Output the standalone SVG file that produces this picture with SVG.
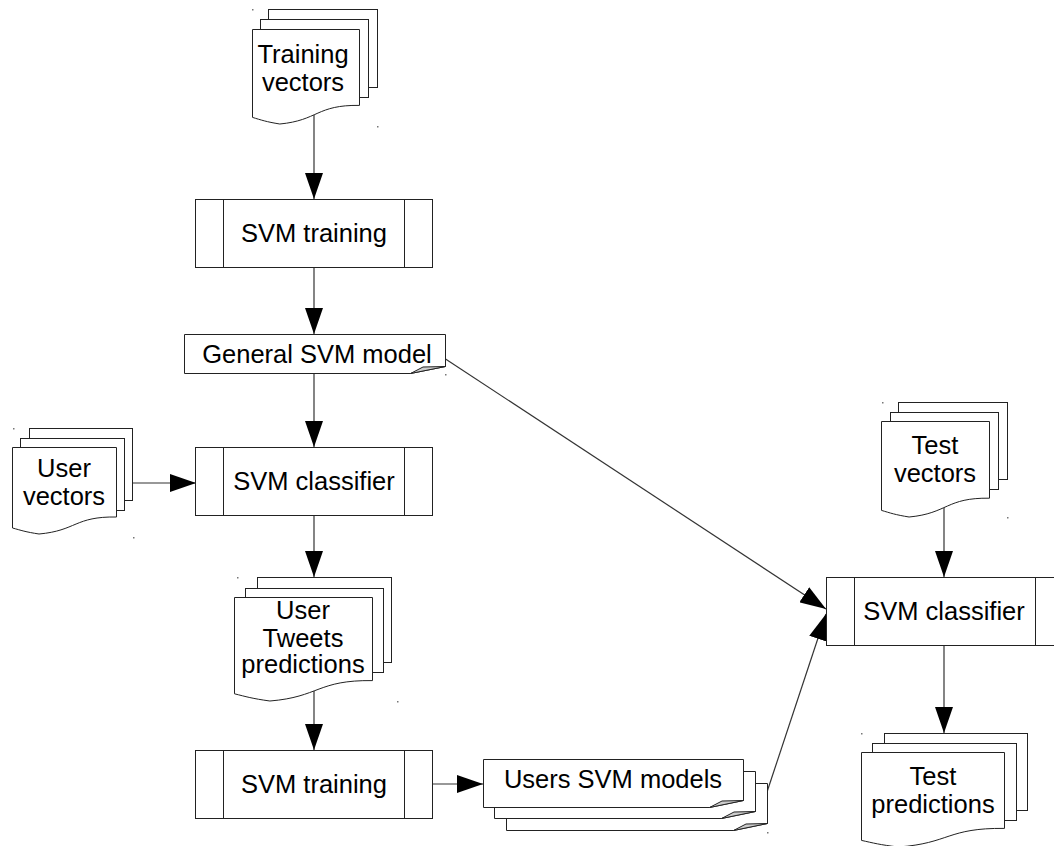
<svg xmlns="http://www.w3.org/2000/svg" width="1054" height="846" viewBox="0 0 1054 846">
<style>
.shape{fill:#fff;stroke:#222;stroke-width:1}
.fold{fill:#ccc;stroke:#222;stroke-width:1}
.conn{fill:none;stroke:#333;stroke-width:1.2}
.lbl{font-family:"Liberation Sans",Arial,sans-serif;font-size:25.5px;fill:#000;text-anchor:middle}
.dot{fill:#777}
</style>
<defs>
<marker id="ah" markerUnits="userSpaceOnUse" markerWidth="27" markerHeight="18" refX="26" refY="9" orient="auto">
<path d="M0,0 L26,9 L0,18 Z" fill="#000"/>
</marker>
</defs>
<rect width="1054" height="846" fill="#fff"/>

<g id="connectors">
<line class="conn" x1="314" y1="112" x2="314" y2="199" marker-end="url(#ah)"/>
<line class="conn" x1="314" y1="267" x2="314" y2="334" marker-end="url(#ah)"/>
<line class="conn" x1="314" y1="373" x2="314" y2="447" marker-end="url(#ah)"/>
<line class="conn" x1="124" y1="483" x2="196" y2="483" marker-end="url(#ah)"/>
<line class="conn" x1="314" y1="515" x2="314" y2="577" marker-end="url(#ah)"/>
<line class="conn" x1="314" y1="690" x2="314" y2="750" marker-end="url(#ah)"/>
<line class="conn" x1="432" y1="784" x2="483" y2="784" marker-end="url(#ah)"/>
<line class="conn" x1="444" y1="358" x2="826" y2="609" marker-end="url(#ah)"/>
<line class="conn" x1="767" y1="792" x2="826" y2="614" marker-end="url(#ah)"/>
<line class="conn" x1="944" y1="505" x2="944" y2="577" marker-end="url(#ah)"/>
<line class="conn" x1="944" y1="645" x2="944" y2="733" marker-end="url(#ah)"/>
</g>

<g id="training-vectors">
<rect class="shape" x="268.5" y="9.5" width="109" height="78"/>
<rect class="shape" x="260.5" y="19.5" width="108" height="78"/>
<path class="shape" d="M252.5,29.5 H359.5 V105.4 C316.6,104.7 318.1,120.4 279.8,124 C266.1,121.8 261.2,120 252.5,117.4 Z"/>
<text class="lbl" x="303" y="63">Training</text>
<text class="lbl" x="303" y="91">vectors</text>
</g>

<g id="svm-training-1">
<rect class="shape" x="195.5" y="199.5" width="237" height="68"/>
<line class="shape" x1="223.5" y1="199.5" x2="223.5" y2="267.5"/>
<line class="shape" x1="404.5" y1="199.5" x2="404.5" y2="267.5"/>
<text class="lbl" x="314" y="242">SVM training</text>
</g>

<g id="general-svm-model">
<path class="shape" d="M184.5,334.5 H445.5 V366.5 L410.5,373.5 H184.5 Z"/>
<path class="fold" d="M410.5,373.5 L423,367 L445.5,366.5 Z"/>
<text class="lbl" x="317" y="363">General SVM model</text>
</g>

<g id="user-vectors">
<rect class="shape" x="29.5" y="428.5" width="103" height="72"/>
<rect class="shape" x="20.5" y="438.5" width="104" height="72"/>
<path class="shape" d="M12.5,447.5 H116.5 V517 C74.8,516.3 76.3,530.7 39,534 C25.7,532 20.9,530.3 12.5,528 Z"/>
<text class="lbl" x="64" y="477">User</text>
<text class="lbl" x="64" y="505">vectors</text>
</g>

<g id="svm-classifier-1">
<rect class="shape" x="195.5" y="447.5" width="237" height="68"/>
<line class="shape" x1="223.5" y1="447.5" x2="223.5" y2="515.5"/>
<line class="shape" x1="404.5" y1="447.5" x2="404.5" y2="515.5"/>
<text class="lbl" x="314" y="490">SVM classifier</text>
</g>

<g id="user-tweets-predictions">
<rect class="shape" x="257.5" y="577.5" width="134" height="85"/>
<rect class="shape" x="245.5" y="588.5" width="138" height="84"/>
<path class="shape" d="M234.5,597.5 H372.5 V680.6 C317.4,679.9 319.3,697 269.9,701 C252.2,698.6 245.9,696.6 234.5,693.8 Z"/>
<text class="lbl" x="303" y="619">User</text>
<text class="lbl" x="303" y="647">Tweets</text>
<text class="lbl" x="303" y="673">predictions</text>
</g>

<g id="svm-training-2">
<rect class="shape" x="195.5" y="750.5" width="237" height="68"/>
<line class="shape" x1="223.5" y1="750.5" x2="223.5" y2="818.5"/>
<line class="shape" x1="404.5" y1="750.5" x2="404.5" y2="818.5"/>
<text class="lbl" x="314" y="793">SVM training</text>
</g>

<g id="users-svm-models">
<path class="shape" d="M506.5,783.5 H767.5 V823.5 L733.5,830.5 H506.5 Z"/>
<path class="fold" d="M733.5,830.5 L746,824 L767.5,823.5 Z"/>
<path class="shape" d="M494.5,771.5 H755.5 V811.5 L721.5,818.5 H494.5 Z"/>
<path class="fold" d="M721.5,818.5 L734,812 L755.5,811.5 Z"/>
<path class="shape" d="M483.5,759.5 H743.5 V800.5 L709.5,807.5 H483.5 Z"/>
<path class="fold" d="M709.5,807.5 L722,801 L743.5,800.5 Z"/>
<text class="lbl" x="613" y="788">Users SVM models</text>
</g>

<g id="test-vectors">
<rect class="shape" x="898.5" y="402.5" width="109" height="77"/>
<rect class="shape" x="890.5" y="412.5" width="108" height="77"/>
<path class="shape" d="M881.5,421.5 H989.5 V498.2 C946.2,497.5 947.7,513.4 909.1,517 C895.3,514.8 890.3,513 881.5,510.4 Z"/>
<text class="lbl" x="935" y="454">Test</text>
<text class="lbl" x="935" y="482">vectors</text>
</g>

<g id="svm-classifier-2">
<rect class="shape" x="826.5" y="577.5" width="237" height="68"/>
<line class="shape" x1="854.5" y1="577.5" x2="854.5" y2="645.5"/>
<line class="shape" x1="1035.5" y1="577.5" x2="1035.5" y2="645.5"/>
<text class="lbl" x="944" y="620">SVM classifier</text>
</g>

<g id="test-predictions">
<rect class="shape" x="884.5" y="733.5" width="143" height="77"/>
<rect class="shape" x="872.5" y="743.5" width="144" height="77"/>
<path class="shape" d="M861.5,752.5 H1004.5 V828.4 C947.4,827.7 949.4,843.4 898.2,847 C879.9,844.8 873.3,843 861.5,840.4 Z"/>
<text class="lbl" x="933" y="785">Test</text>
<text class="lbl" x="933" y="813">predictions</text>
</g>

<g id="specks">
<rect class="dot" x="252" y="9" width="1.5" height="1.5"/>
<rect class="dot" x="377" y="126" width="1.5" height="1.5"/>
<rect class="dot" x="13" y="428" width="1.5" height="1.5"/>
<rect class="dot" x="133" y="537" width="1.5" height="1.5"/>
<rect class="dot" x="237" y="577" width="1.5" height="1.5"/>
<rect class="dot" x="397" y="701" width="1.5" height="1.5"/>
<rect class="dot" x="445" y="374" width="1.5" height="1.5"/>
<rect class="dot" x="882" y="402" width="1.5" height="1.5"/>
<rect class="dot" x="1007" y="517" width="1.5" height="1.5"/>
<rect class="dot" x="861" y="733" width="1.5" height="1.5"/>
<rect class="dot" x="767" y="832" width="1.5" height="1.5"/>
</g>
</svg>
